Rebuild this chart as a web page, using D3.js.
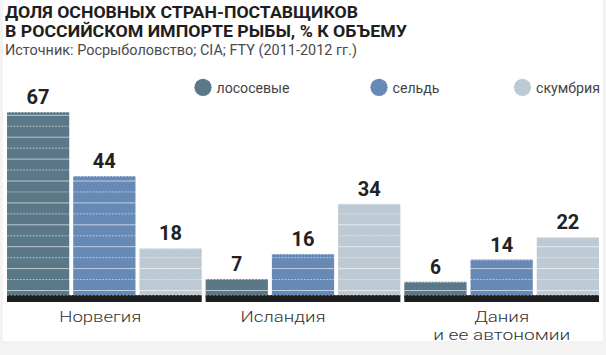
<!DOCTYPE html>
<html><head><meta charset="utf-8">
<script src="https://cdn.jsdelivr.net/npm/d3@7"></script>
<style>
html,body{margin:0;padding:0;background:#f3f3f3;}
svg{display:block;font-family:Roboto,"Noto Sans",sans-serif;}
</style></head>
<body><svg id="c" width="606" height="355"></svg>
<script>
const countries = ["Норвегия", "Исландия", "Дания\nи ее автономии"];
const seriesNames = ["лососевые", "сельдь", "скумбрия"];
const salmon   = [67, 7, 6];
const herring  = [44, 16, 14];
const mackerel = [18, 34, 22];
const titleLines = ["ДОЛЯ ОСНОВНЫХ СТРАН-ПОСТАВЩИКОВ", "В РОССИЙСКОМ ИМПОРТЕ РЫБЫ, % К ОБЪЕМУ"];
const source = "Источник: Росрыболовство; CIA; FTY (2011-2012 гг.)";

const colors = ["#5a7888", "#6689b6", "#bdcad4"];
const seriesValues = [salmon, herring, mackerel];

const svg = d3.select("#c");
svg.append("rect").attr("x",0).attr("y",0).attr("width",606).attr("height",355).attr("fill","#f3f3f3");
svg.append("rect").attr("x",3).attr("y",0).attr("width",600).attr("height",341).attr("fill","#ffffff");

// title
const tl = [353, 402];
titleLines.forEach((t,i)=>{
  svg.append("text").attr("x",5).attr("y",18 + i*18.5)
    .attr("font-size",16.5).attr("font-weight",700).attr("fill","#1e1e1e")
    .attr("textLength",tl[i]).attr("lengthAdjust","spacingAndGlyphs").text(t);
});
svg.append("text").attr("x",5).attr("y",54.5).attr("font-size",14).attr("fill","#4a4a4a")
  .attr("textLength",352).attr("lengthAdjust","spacingAndGlyphs").text(source);

// legend
const legX = [203, 379, 522.5];
const legW = [73, 47, 64];
const leg = svg.append("g").selectAll("g").data(seriesNames).join("g");
leg.append("circle").attr("cx",(d,i)=>legX[i]).attr("cy",87.3).attr("r",8.6).attr("fill",(d,i)=>colors[i]);
leg.append("text").attr("x",(d,i)=>legX[i]+13.5).attr("y",92.7).attr("font-size",15).attr("fill","#444")
  .attr("textLength",(d,i)=>legW[i]).attr("lengthAdjust","spacingAndGlyphs").text(d=>d);

// scales
const x0 = d3.scaleBand().domain(countries).range([7, 599]).paddingInner(0.02);
const x1 = d3.scaleBand().domain(seriesNames).range([0, x0.bandwidth()]).paddingInner(0.06);
const y = d3.scaleLinear().domain([0, 67]).range([298.5, 112]);

const bars = [];
countries.forEach((c,ci)=>{
  seriesNames.forEach((s,si)=>{
    bars.push({c, s, si, v: seriesValues[si][ci]});
  });
});

const gBars = svg.append("g");
bars.forEach((b,i)=>{
  const bx = x0(b.c) + x1(b.s), bw = x1.bandwidth();
  const top = y(b.v), bot = y(0);
  gBars.append("rect").attr("x",bx).attr("y",top).attr("width",bw).attr("height",bot-top).attr("fill",colors[b.si]);
  // decorative stripes
  const ys = d3.range(0, 30).map(k=>({k, yy: 290 - k*10.95})).filter(o=>o.yy > top + 1.5);
  ys.forEach(o=>{
    gBars.append("line").attr("x1",bx).attr("x2",bx+bw).attr("y1",o.yy+0.5).attr("y2",o.yy+0.5)
      .attr("stroke","#ffffff").attr("stroke-opacity", o.k%2===0 ? 0.6 : 0.5)
      .attr("stroke-dasharray", o.k%2===0 ? null : "2,1.2");
  });
  gBars.append("line").attr("x1",bx).attr("x2",bx+bw).attr("y1",top+0.5).attr("y2",top+0.5)
    .attr("stroke","#ffffff").attr("stroke-opacity",0.55).attr("stroke-dasharray","2,1.2");
  // value label
  svg.append("text").attr("x",bx+bw/2).attr("y",top-8).attr("text-anchor","middle")
    .attr("font-size",21).attr("font-weight",700).attr("fill","#222")
    .attr("textLength", String(b.v).length > 1 ? 23 : 11).attr("lengthAdjust","spacingAndGlyphs").text(b.v);
});

// baseline bands
countries.forEach(c=>{
  svg.append("rect").attr("x",x0(c)).attr("y",295).attr("width",x0.bandwidth()).attr("height",7).attr("fill","#1e1e1e");
  svg.append("line").attr("x1",x0(c)).attr("x2",x0(c)+x0.bandwidth()).attr("y1",295.5).attr("y2",295.5)
    .attr("stroke","#777").attr("stroke-dasharray","2,1.5").attr("stroke-width",0.8);
});

// category labels
const labelDx = [-4, -20, 0];
const labelW = [[82], [85], [55, 137]];
countries.forEach((c,ci)=>{
  const lines = c.split("\n");
  lines.forEach((ln,li)=>{
    svg.append("text").attr("text-anchor","middle").attr("font-size",15).attr("font-weight",300).attr("fill","#333")
      .attr("x", x0(c) + x0.bandwidth()/2 + labelDx[ci]).attr("y", 321.5 + li*18)
      .attr("textLength", labelW[ci][li]).attr("lengthAdjust","spacingAndGlyphs").text(ln);
  });
});
</script></body></html>
